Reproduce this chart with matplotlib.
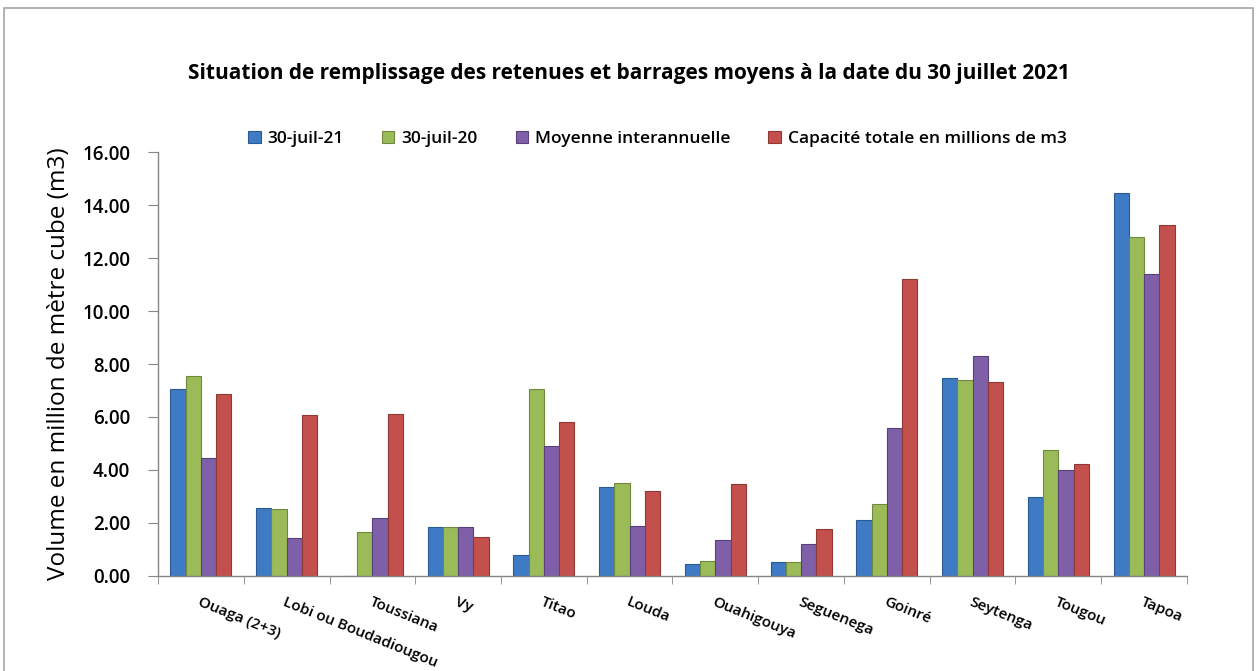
import numpy as np
import matplotlib
matplotlib.use("Agg")
import matplotlib.pyplot as plt
from matplotlib.patches import Rectangle

plt.rcParams["font.family"] = ["Open Sans", "DejaVu Sans"]

sites = [
    "Ouaga (2+3)", "Lobi ou Boudadiougou", "Toussiana", "Vy", "Titao", "Louda",
    "Ouahigouya", "Seguenega", "Goinré", "Seytenga", "Tougou", "Tapoa",
]
juil_21 = [7.07, 2.56, 0.00, 1.85, 0.79, 3.35, 0.44, 0.53, 2.09, 7.48, 2.98, 14.47]
juil_20 = [7.53, 2.51, 1.64, 1.85, 7.04, 3.51, 0.57, 0.50, 2.70, 7.39, 4.74, 12.81]
moyenne = [4.45, 1.41, 2.17, 1.85, 4.91, 1.89, 1.35, 1.18, 5.60, 8.29, 3.98, 11.40]
capacite = [6.85, 6.06, 6.10, 1.47, 5.81, 3.19, 3.48, 1.78, 11.22, 7.32, 4.24, 13.24]

series = [
    ("30-juil-21", juil_21, "#3E7BC4", "#2A5A94"),
    ("30-juil-20", juil_20, "#9BBB59", "#71893F"),
    ("Moyenne interannuelle", moyenne, "#7F60A8", "#58417A"),
    ("Capacité totale en millions de m3", capacite, "#C4504D", "#8E3936"),
]

fig = plt.figure(figsize=(12.57, 6.71), dpi=100)
ax = fig.add_axes([0.1257, 0.142, 0.8186, 0.631])

x = np.arange(len(sites))
width = 0.178
for k, (name, values, color, edge) in enumerate(series):
    ax.bar(x + (k - 1.5) * width, values, width, color=color, edgecolor=edge,
           linewidth=0.8, label=name, zorder=2)

ax.set_xlim(-0.5, len(sites) - 0.5)
ax.set_ylim(0, 16)
ax.set_yticks(np.arange(0, 16.01, 2))
ax.set_yticklabels([f"{v:.2f}" for v in np.arange(0, 16.01, 2)],
                   fontsize=13.5, fontweight="semibold")

ax.set_xticks(x)
ax.set_xticklabels(sites, rotation=-22, ha="left", va="top",
                   rotation_mode="anchor", fontsize=11, fontweight="semibold")
ax.set_xticks(np.arange(-0.5, len(sites)), minor=True)
ax.tick_params(axis="x", which="major", length=0, pad=14)
ax.tick_params(axis="x", which="minor", length=6, color="#868686", direction="out")
ax.tick_params(axis="y", length=7, color="#868686", direction="out", pad=13)

for side in ["top", "right"]:
    ax.spines[side].set_visible(False)
for side in ["left", "bottom"]:
    ax.spines[side].set_color("#868686")
    ax.spines[side].set_linewidth(1.0)

ax.set_ylabel("Volume en million de mètre cube (m3)", fontsize=17.5, labelpad=8)

fig.text(0.5, 0.891, "Situation de remplissage des retenues et barrages moyens à la date du 30 juillet 2021",
         ha="center", va="center", fontsize=15, fontweight="bold")

ax.legend(loc="center", bbox_to_anchor=(0.523, 0.793), bbox_transform=fig.transFigure,
          ncol=4, frameon=False, handlelength=0.7, handleheight=0.7,
          handletextpad=0.4, columnspacing=2.2,
          prop={"size": 12.5, "weight": "semibold"})

fig.patches.append(Rectangle((0.003, -0.05), 0.994, 1.038, transform=fig.transFigure,
                             fill=False, edgecolor="#A6A6A6", linewidth=1.2))

fig.savefig("out.png", dpi=100)
